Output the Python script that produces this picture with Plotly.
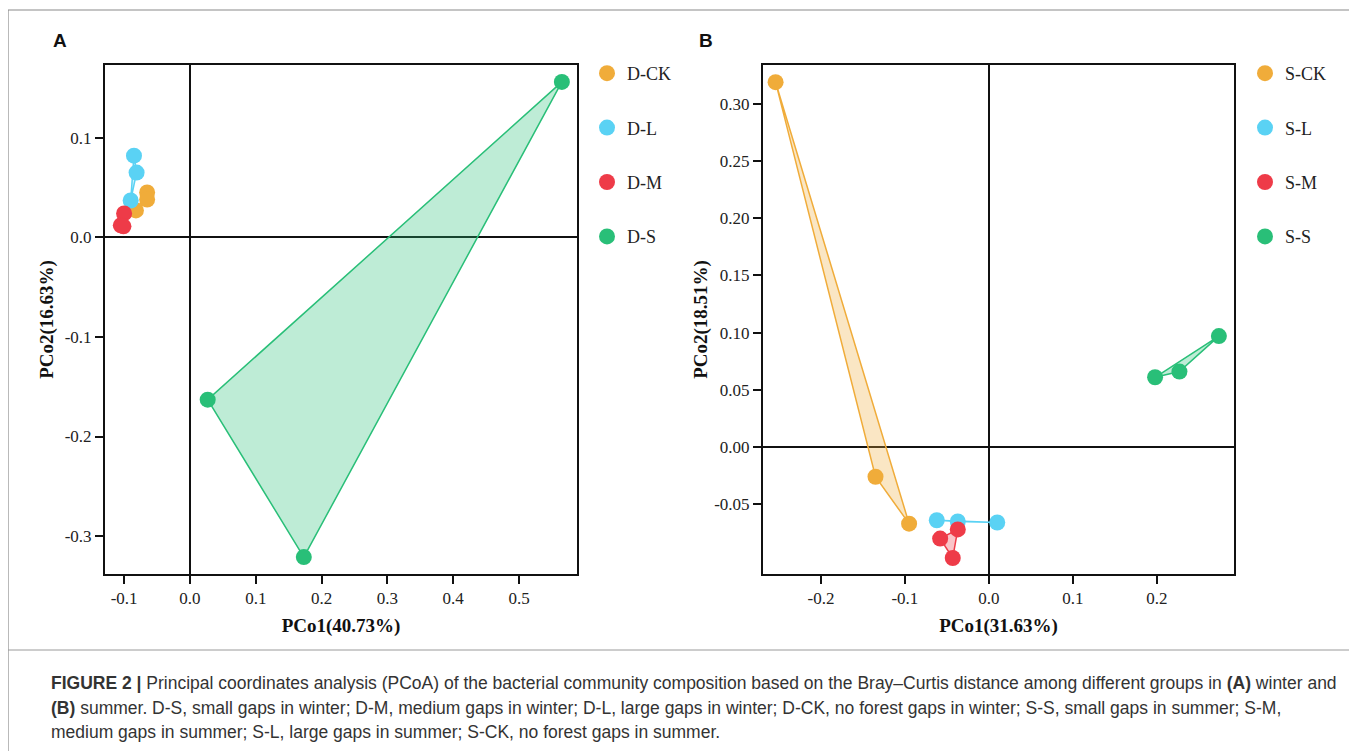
import plotly.graph_objects as go

# The page body has an 8px margin; the figure is sized and positioned to compensate.
OFF = 8
W, H = 1357 - OFF, 751 - OFF

# ---------------- data ----------------
groups_a = ["D-CK", "D-L", "D-M", "D-S"]
dck_x = [-0.065, -0.065, -0.082]; dck_y = [0.045, 0.038, 0.027]
dl_x = [-0.085, -0.081, -0.090]; dl_y = [0.082, 0.065, 0.037]
dm_x = [-0.100, -0.105, -0.101]; dm_y = [0.024, 0.012, 0.011]
ds_x = [0.565, 0.027, 0.173]; ds_y = [0.156, -0.163, -0.321]

groups_b = ["S-CK", "S-L", "S-M", "S-S"]
sck_x = [-0.254, -0.135, -0.095]; sck_y = [0.319, -0.026, -0.067]
sl_x = [-0.062, -0.037, 0.010]; sl_y = [-0.064, -0.065, -0.066]
sm_x = [-0.058, -0.037, -0.043]; sm_y = [-0.080, -0.072, -0.097]
ss_x = [0.198, 0.227, 0.274]; ss_y = [0.061, 0.066, 0.097]

xa_ticks = [-0.1, 0.0, 0.1, 0.2, 0.3, 0.4, 0.5]
xa_text = ["-0.1", "0.0", "0.1", "0.2", "0.3", "0.4", "0.5"]
ya_ticks = [-0.3, -0.2, -0.1, 0.0, 0.1]
ya_text = ["-0.3", "-0.2", "-0.1", "0.0", "0.1"]
xb_ticks = [-0.2, -0.1, 0.0, 0.1, 0.2]
xb_text = ["-0.2", "-0.1", "0.0", "0.1", "0.2"]
yb_ticks = [-0.05, 0.0, 0.05, 0.10, 0.15, 0.20, 0.25, 0.30]
yb_text = ["-0.05", "0.00", "0.05", "0.10", "0.15", "0.20", "0.25", "0.30"]

xa_title = "PCo1(40.73%)"; ya_title = "PCo2(16.63%)"
xb_title = "PCo1(31.63%)"; yb_title = "PCo2(18.51%)"

colors = ["#F0AC3A", "#5AD2F4", "#EE3B48", "#29BF78"]
fills = ["rgba(240,172,58,0.30)", "rgba(90,210,244,0.30)",
         "rgba(238,59,72,0.30)", "rgba(41,191,120,0.30)"]

SERIF = "Liberation Serif"
SANS = "Liberation Sans"

fig = go.Figure()

def add_hull(xs, ys, i, xref, yref):
    fig.add_trace(go.Scatter(
        x=xs + xs[:1], y=ys + ys[:1], mode="lines", fill="toself",
        fillcolor=fills[i], line=dict(color=colors[i], width=1.5),
        xaxis=xref, yaxis=yref, showlegend=False, hoverinfo="skip"))

panel_a = [(dck_x, dck_y), (dl_x, dl_y), (dm_x, dm_y), (ds_x, ds_y)]
panel_b = [(sck_x, sck_y), (sl_x, sl_y), (sm_x, sm_y), (ss_x, ss_y)]

for i, (xs, ys) in enumerate(panel_a):
    add_hull(xs, ys, i, "x", "y")
for i, (xs, ys) in enumerate(panel_b):
    add_hull(xs, ys, i, "x2", "y2")

for i, (xs, ys) in enumerate(panel_a):
    fig.add_trace(go.Scatter(x=xs, y=ys, mode="markers", name=groups_a[i],
                             marker=dict(color=colors[i], size=16),
                             xaxis="x", yaxis="y", legend="legend",
                             legendgroup=groups_a[i]))
for i, (xs, ys) in enumerate(panel_b):
    fig.add_trace(go.Scatter(x=xs, y=ys, mode="markers", name=groups_b[i],
                             marker=dict(color=colors[i], size=16),
                             xaxis="x2", yaxis="y2", legend="legend2",
                             legendgroup=groups_b[i]))

def px(x):
    return (x - OFF) / W

def py(y):
    return 1 - (y - OFF) / H

tickfont = dict(family=SERIF, size=17, color="#222")
titlefont = dict(family=SERIF, size=19, color="#111", weight="bold")

axis_common = dict(showline=True, linecolor="#111", linewidth=2, mirror=True,
                   ticks="outside", ticklen=8, tickwidth=1.5, tickcolor="#111",
                   showgrid=False, zeroline=True, zerolinecolor="#111",
                   zerolinewidth=1.5, tickfont=tickfont)

fig.update_layout(
    width=W, height=H, margin=dict(l=0, r=0, t=0, b=0),
    paper_bgcolor="white", plot_bgcolor="white",
    xaxis=dict(domain=[px(105), px(577)], range=[-0.129, 0.588],
               tickvals=xa_ticks, ticktext=xa_text,
               title=dict(text=xa_title, font=titlefont, standoff=11),
               anchor="y", **axis_common),
    yaxis=dict(domain=[py(574), py(65)], range=[-0.338, 0.173],
               tickvals=ya_ticks, ticktext=ya_text,
               title=dict(text=ya_title, font=titlefont, standoff=6),
               anchor="x", **axis_common),
    xaxis2=dict(domain=[px(763), px(1234)], range=[-0.269, 0.292],
                tickvals=xb_ticks, ticktext=xb_text,
                title=dict(text=xb_title, font=titlefont, standoff=11),
                anchor="y2", **axis_common),
    yaxis2=dict(domain=[py(574), py(65)], range=[-0.111, 0.334],
                tickvals=yb_ticks, ticktext=yb_text,
                title=dict(text=yb_title, font=titlefont, standoff=2),
                anchor="x2", **axis_common),
    legend=dict(x=px(587), y=py(55), xanchor="left", yanchor="top",
                font=dict(family=SERIF, size=18, color="#222"),
                traceorder="grouped", tracegroupgap=28,
                bgcolor="rgba(0,0,0,0)"),
    legend2=dict(x=px(1245), y=py(55), xanchor="left", yanchor="top",
                 font=dict(family=SERIF, size=18, color="#222"),
                 traceorder="grouped", tracegroupgap=28,
                 bgcolor="rgba(0,0,0,0)"),
)

# panel labels
fig.add_annotation(x=px(60), y=py(41), xref="paper", yref="paper", text="<b>A</b>",
                   showarrow=False, xanchor="center", yanchor="middle",
                   font=dict(family=SANS, size=19, color="#111"))
fig.add_annotation(x=px(706), y=py(41), xref="paper", yref="paper", text="<b>B</b>",
                   showarrow=False, xanchor="center", yanchor="middle",
                   font=dict(family=SANS, size=19, color="#111"))

# figure frame and caption separator
fig.add_shape(type="rect", xref="paper", yref="paper",
              x0=px(8), x1=px(1351), y0=py(770), y1=py(10),
              line=dict(color="#8a8a8a", width=1.2))
fig.add_shape(type="line", xref="paper", yref="paper",
              x0=px(8), x1=px(1351), y0=py(650), y1=py(650),
              line=dict(color="#9a9a9a", width=1))

caption_lines = [
    "<b>FIGURE 2 |</b> Principal coordinates analysis (PCoA) of the bacterial community composition based on the Bray\u2013Curtis distance among different groups in <b>(A)</b> winter and",
    "<b>(B)</b> summer. D-S, small gaps in winter; D-M, medium gaps in winter; D-L, large gaps in winter; D-CK, no forest gaps in winter; S-S, small gaps in summer; S-M,",
    "medium gaps in summer; S-L, large gaps in summer; S-CK, no forest gaps in summer.",
]
for k, line in enumerate(caption_lines):
    fig.add_annotation(x=px(49), y=py(683 + 24.5 * k), xref="paper", yref="paper",
                       text=line, showarrow=False, xanchor="left", yanchor="middle",
                       font=dict(family=SANS, size=17.5, color="#333"))

fig.write_html("out.html")
